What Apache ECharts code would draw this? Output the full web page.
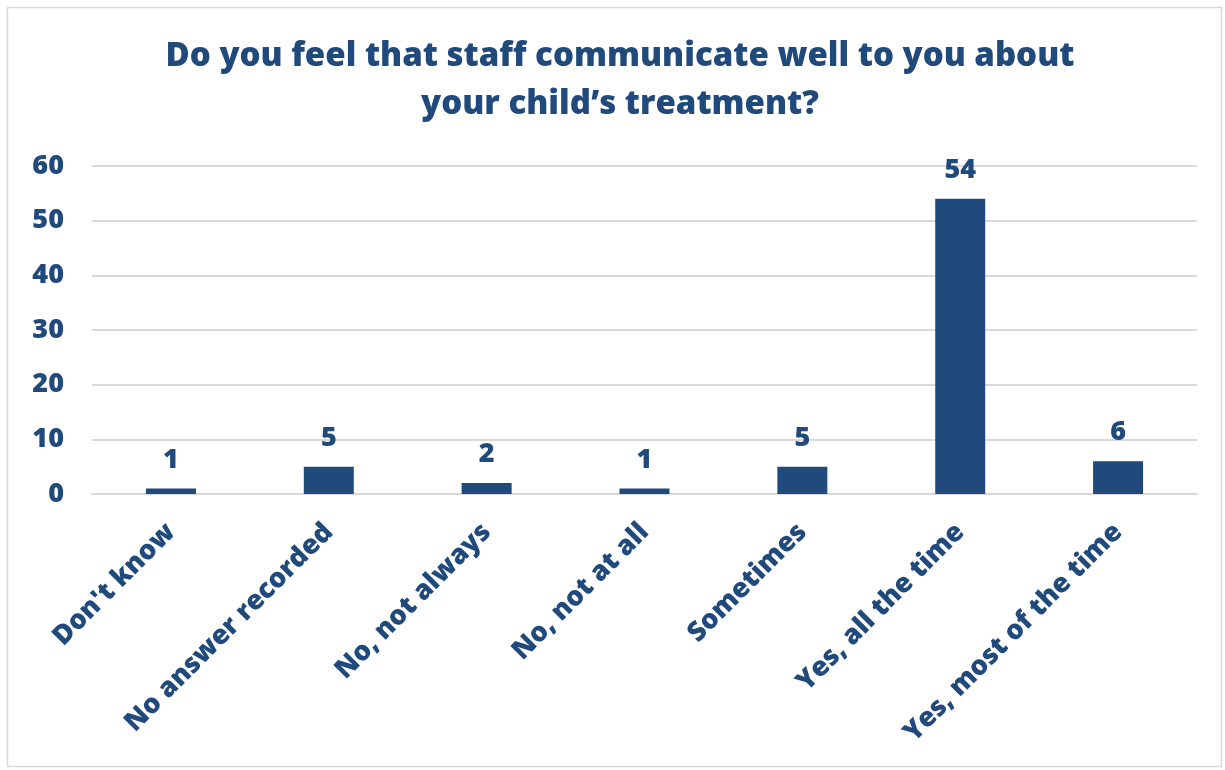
<!DOCTYPE html>
<html>
<head>
<meta charset="utf-8">
<style>
  html, body { margin: 0; padding: 0; background: #fff; }
  #chart { width: 1225px; height: 770px; }
</style>
<script src="https://cdn.jsdelivr.net/npm/echarts@6/dist/echarts.min.js"></script>
</head>
<body>
<div id="chart"></div>
<script>
// Survey responses: communication about the child's treatment
const categories = [
  "Don't know",
  "No answer recorded",
  "No, not always",
  "No, not at all",
  "Sometimes",
  "Yes, all the time",
  "Yes, most of the time"
];
const responses = [1, 5, 2, 1, 5, 54, 6];
const yTicks = { min: 0, max: 60, interval: 10 };

const navy = '#214A7C';
const fontFamily = '"Open Sans", "Noto Sans", sans-serif';

const chart = echarts.init(document.getElementById('chart'));
chart.setOption({
  animation: false,
  backgroundColor: '#ffffff',
  graphic: [{
    type: 'rect',
    shape: { x: 7.5, y: 7.5, width: 1214, height: 759 },
    style: { fill: 'none', stroke: '#d9d9d9', lineWidth: 1.5 }
  }],
  title: {
    text: 'Do you feel that staff communicate well to you about\nyour child\u2019s treatment?',
    left: 615,
    top: 28,
    textAlign: 'center',
    textStyle: {
      color: navy,
      fontFamily: fontFamily,
      fontWeight: 800,
      fontSize: 33,
      lineHeight: 48
    }
  },
  grid: { left: 92, right: 28, top: 166, bottom: 276, containLabel: false },
  xAxis: {
    type: 'category',
    data: categories,
    axisLine: { show: true, lineStyle: { color: '#d9d9d9', width: 2 } },
    axisTick: { show: false },
    axisLabel: {
      rotate: 45,
      interval: 0,
      margin: 34,
      color: navy,
      fontFamily: fontFamily,
      fontWeight: 800,
      fontSize: 27
    }
  },
  yAxis: {
    type: 'value',
    min: yTicks.min,
    max: yTicks.max,
    interval: yTicks.interval,
    axisLine: { show: false },
    axisTick: { show: false },
    splitLine: { lineStyle: { color: '#d9d9d9', width: 2 } },
    axisLabel: {
      margin: 28,
      color: navy,
      fontFamily: fontFamily,
      fontWeight: 800,
      fontSize: 27
    }
  },
  series: [{
    type: 'bar',
    data: responses,
    barWidth: 50,
    itemStyle: { color: navy },
    label: {
      show: true,
      position: 'top',
      distance: 15,
      color: navy,
      fontFamily: fontFamily,
      fontWeight: 800,
      fontSize: 27
    }
  }]
});
</script>
</body>
</html>
